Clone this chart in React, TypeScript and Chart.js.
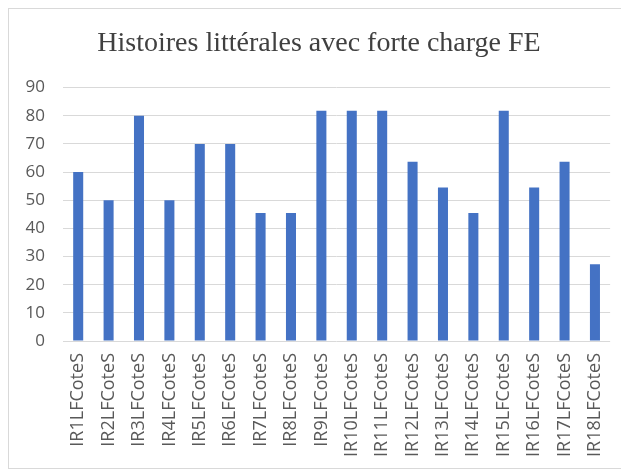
import React, { useEffect, useRef } from "react";
import { Chart, registerables } from "chart.js";

Chart.register(...registerables);

const categories = [
  "IR1LFCoteS", "IR2LFCoteS", "IR3LFCoteS", "IR4LFCoteS", "IR5LFCoteS", "IR6LFCoteS",
  "IR7LFCoteS", "IR8LFCoteS", "IR9LFCoteS", "IR10LFCoteS", "IR11LFCoteS", "IR12LFCoteS",
  "IR13LFCoteS", "IR14LFCoteS", "IR15LFCoteS", "IR16LFCoteS", "IR17LFCoteS", "IR18LFCoteS",
];

const values = [
  60, 50, 80, 50, 70, 70,
  45.45, 45.45, 81.82, 81.82, 81.82, 63.64,
  54.55, 45.45, 81.82, 54.55, 63.64, 27.27,
];

const chartTitle = "Histoires littérales avec forte charge FE";
const yMin = 0;
const yMax = 90;
const yStep = 10;

export default function App() {
  const canvasRef = useRef<HTMLCanvasElement | null>(null);

  useEffect(() => {
    if (!canvasRef.current) return;
    const chart = new Chart(canvasRef.current, {
      type: "bar",
      data: {
        labels: categories,
        datasets: [
          {
            data: values,
            backgroundColor: "#4472C4",
            borderWidth: 0,
            barPercentage: 0.33,
            categoryPercentage: 1,
          },
        ],
      },
      options: {
        animation: false,
        responsive: false,
        maintainAspectRatio: false,
        layout: { padding: { top: 6, left: 0, right: 0, bottom: 0 } },
        plugins: {
          legend: { display: false },
          tooltip: { enabled: false },
          title: {
            display: true,
            text: chartTitle,
            color: "#404040",
            font: { family: "'Liberation Serif', 'Times New Roman', serif", size: 28, weight: "normal" },
            padding: { top: 12, bottom: 27 },
          },
        },
        scales: {
          x: {
            grid: { display: false, drawTicks: false },
            border: { display: false },
            ticks: {
              color: "#595959",
              font: { family: "'Open Sans', sans-serif", size: 18 },
              maxRotation: 90,
              minRotation: 90,
              autoSkip: false,
              padding: 12,
            },
            afterFit: (scale: any) => {
              scale.height = 127;
            },
          },
          y: {
            min: yMin,
            max: yMax,
            grid: { color: "#d9d9d9", lineWidth: 1, drawTicks: false },
            border: { display: false },
            ticks: {
              stepSize: yStep,
              color: "#595959",
              font: { family: "'Open Sans', sans-serif", size: 17 },
              padding: 18,
            },
            afterFit: (scale: any) => {
              scale.width = 54;
            },
          },
          yRight: {
            position: "right",
            display: true,
            grid: { display: false, drawTicks: false },
            border: { display: false },
            ticks: { display: false },
            afterFit: (scale: any) => {
              scale.width = 16;
            },
          },
        },
      },
    });
    return () => chart.destroy();
  }, []);

  return (
    <div
      style={{
        width: 620,
        height: 459,
        borderTop: "1px solid #d9d9d9",
        borderLeft: "1px solid #d9d9d9",
        borderBottom: "1px solid #d9d9d9",
        background: "#fff",
      }}
    >
      <canvas ref={canvasRef} width={620} height={459} style={{ display: "block" }} />
    </div>
  );
}
